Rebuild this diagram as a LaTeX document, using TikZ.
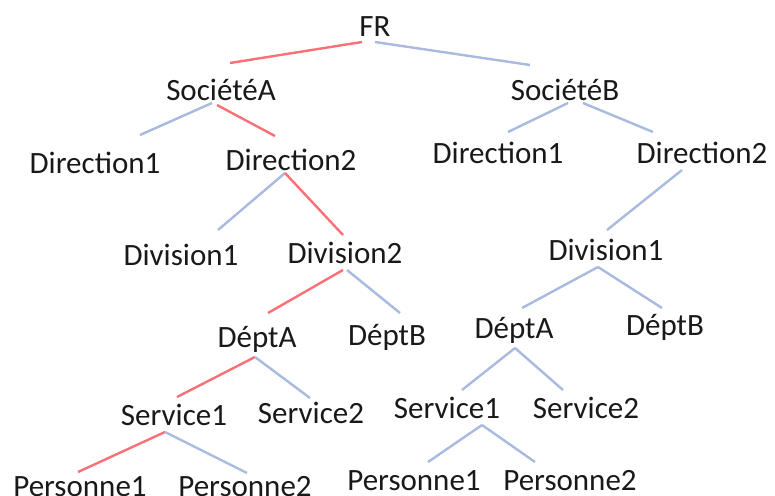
\documentclass[tikz,border=0pt]{standalone}
\usepackage{fontspec}
\setmainfont{Carlito}
\usetikzlibrary{calc}
\definecolor{pathred}{RGB}{250,112,118}
\definecolor{linkblue}{RGB}{168,186,222}
\tikzset{
  lbl/.style={anchor=base, inner sep=0pt, font=\fontsize{31}{36}\selectfont, text=black!90},
  edge/.style={line width=2.4pt, color=linkblue},
  hot/.style={line width=2.4pt, color=pathred}
}
\begin{document}
\begin{tikzpicture}[x=1pt, y=-1pt]
\useasboundingbox (0,0) rectangle (775,495);
% nodes, placed on their baselines
\node[lbl] (fr)   at (375,37)  {FR};
\node[lbl] (sa)   at (221,100) {SociétéA};
\node[lbl] (sb)   at (565,100) {SociétéB};
\node[lbl] (dal)  at (95,173)  {Direction1};
\node[lbl] (dbl)  at (291,170) {Direction2};
\node[lbl] (dar)  at (498,163) {Direction1};
\node[lbl] (dbr)  at (702,163) {Direction2};
\node[lbl] (val)  at (181,265) {Division1};
\node[lbl] (vbl)  at (345,263) {Division2};
\node[lbl] (var)  at (606,260) {Division1};
\node[lbl] (pal)  at (257,347) {DéptA};
\node[lbl] (pbl)  at (387,345) {DéptB};
\node[lbl] (par)  at (514,338) {DéptA};
\node[lbl] (pbr)  at (665,335) {DéptB};
\node[lbl] (sal)  at (174,425) {Service1};
\node[lbl] (sbl)  at (311,423) {Service2};
\node[lbl] (sar)  at (447,418) {Service1};
\node[lbl] (sbr)  at (586,418) {Service2};
\node[lbl] (nal)  at (80,496)  {Personne1};
\node[lbl] (nbl)  at (245,496) {Personne2};
\node[lbl] (nar)  at (414,490) {Personne1};
\node[lbl] (nbr)  at (570,490) {Personne2};
% connectors, from below each parent to above each child
\draw[hot]  ($(fr.base)+(-13,5)$)  -- ($(sa.base)+(9,-37)$);
\draw[edge] ($(fr.base)+(0,5)$)    -- ($(sb.base)+(-35,-35)$);
\draw[edge] ($(sa.base)+(-9,3)$)   -- ($(dal.base)+(45,-38)$);
\draw[hot]  ($(sa.base)+(-4,5)$)   -- ($(dbl.base)+(-16,-34)$);
\draw[edge] ($(sb.base)+(3,3)$)    -- ($(dar.base)+(10,-31)$);
\draw[edge] ($(sb.base)+(18,3)$)   -- ($(dbr.base)+(-49,-31)$);
\draw[edge] ($(dbl.base)+(-6,3)$)  -- ($(val.base)+(37,-35)$);
\draw[hot]  ($(dbl.base)+(-6,3)$)  -- ($(vbl.base)+(-2,-28)$);
\draw[edge] ($(dbr.base)+(-20,7)$) -- ($(var.base)+(1,-30)$);
\draw[hot]  ($(vbl.base)+(-2,7)$)  -- ($(pal.base)+(11,-34)$);
\draw[edge] ($(vbl.base)+(2,7)$)   -- ($(pbl.base)+(13,-32)$);
\draw[edge] ($(var.base)+(-8,7)$)  -- ($(par.base)+(8,-30)$);
\draw[edge] ($(var.base)+(-8,7)$)  -- ($(pbr.base)+(-3,-27)$);
\draw[hot]  ($(pal.base)+(-2,10)$) -- ($(sal.base)+(3,-28)$);
\draw[edge] ($(pal.base)+(-2,10)$) -- ($(sbl.base)+(-1,-25)$);
\draw[edge] ($(par.base)+(1,10)$)  -- ($(sar.base)+(15,-28)$);
\draw[edge] ($(par.base)+(1,10)$)  -- ($(sbr.base)+(-23,-28)$);
\draw[hot]  ($(sal.base)+(-9,7)$)  -- ($(nal.base)+(-2,-24)$);
\draw[edge] ($(sal.base)+(-9,7)$)  -- ($(nbl.base)+(2,-23)$);
\draw[edge] ($(sar.base)+(35,7)$)  -- ($(nar.base)+(14,-28)$);
\draw[edge] ($(sar.base)+(35,7)$)  -- ($(nbr.base)+(-35,-28)$);
\end{tikzpicture}
\end{document}
